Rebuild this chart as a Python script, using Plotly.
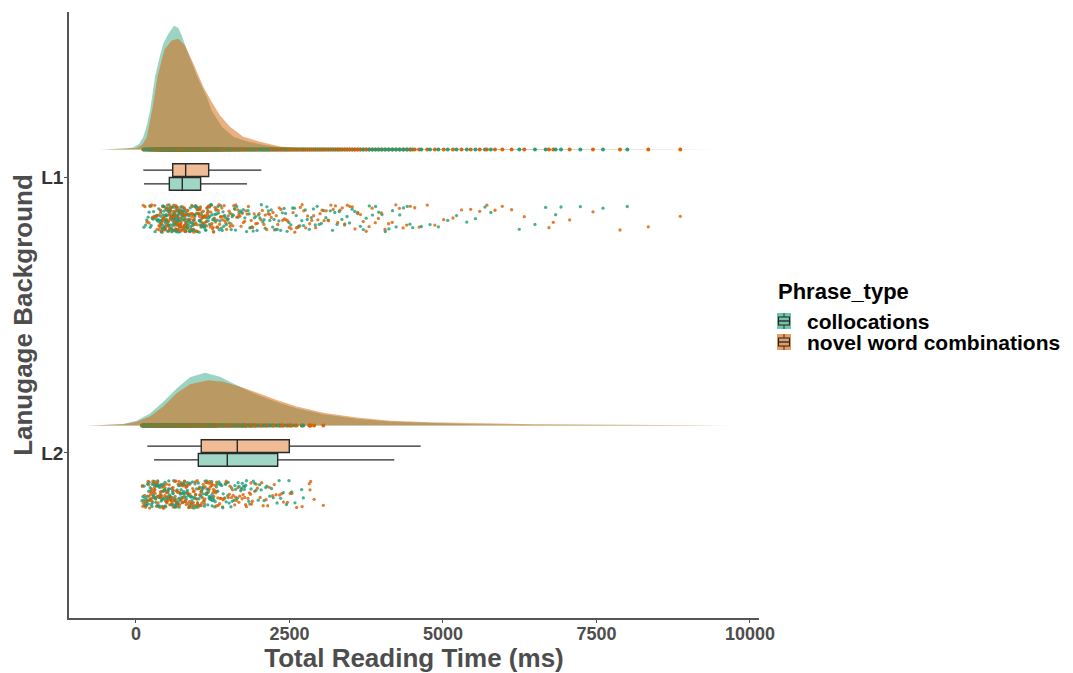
import numpy as np
import plotly.graph_objects as go

# ---------------- data ----------------
groups = ["L1", "L2"]
phrase_types = ["collocations", "novel word combinations"]

# box statistics (ms): lower whisker, Q1, median, Q3, upper whisker
box_L1_coll = [130, 543, 754, 1053, 1808]
box_L1_novel = [119, 598, 809, 1184, 2041]
box_L2_coll = [293, 1015, 1487, 2308, 4207]
box_L2_novel = [184, 1063, 1650, 2497, 4637]

# density curves (x in ms, scaled height)
dens_L1_coll_x = [-600, -300, -180, -50, 50, 120, 180, 230, 310, 380, 445, 530, 620, 690, 745, 850, 990, 1150, 1230, 1400, 1590, 1800, 2000, 2240, 2670, 3500, 5000, 7000, 8500, 9300]
dens_L1_coll_h = [0, 0.001, 0.003, 0.007, 0.02, 0.046, 0.09, 0.141, 0.263, 0.33, 0.384, 0.42, 0.448, 0.44, 0.413, 0.348, 0.268, 0.191, 0.142, 0.082, 0.046, 0.03, 0.02, 0.011, 0.004, 0.002, 0.001, 0.0005, 0.0002, 0]
dens_L1_novel_x = [-500, -200, 11, 100, 174, 270, 355, 465, 581, 689, 798, 933, 1096, 1232, 1368, 1531, 1748, 2020, 2345, 2671, 3500, 5000, 7000, 9000, 9600]
dens_L1_novel_h = [0, 0.002, 0.005, 0.017, 0.042, 0.15, 0.268, 0.362, 0.395, 0.401, 0.377, 0.312, 0.227, 0.173, 0.123, 0.082, 0.046, 0.028, 0.011, 0.004, 0.002, 0.0015, 0.0008, 0.0004, 0]
dens_L2_coll_x = [-800, -530, -207, 11, 228, 445, 663, 879, 1124, 1368, 1585, 1857, 1966, 2292, 2617, 3052, 3595, 4137, 4788, 5500, 6500, 8000, 9600]
dens_L2_coll_h = [0, 0.001, 0.005, 0.017, 0.043, 0.086, 0.134, 0.174, 0.191, 0.176, 0.152, 0.125, 0.112, 0.085, 0.062, 0.04, 0.024, 0.014, 0.008, 0.004, 0.002, 0.001, 0]
dens_L2_novel_x = [-800, -530, -207, 11, 228, 445, 663, 879, 1178, 1423, 1694, 1966, 2292, 2617, 3052, 3595, 4137, 4788, 5500, 6500, 8000, 9700]
dens_L2_novel_h = [0, 0.001, 0.004, 0.013, 0.032, 0.068, 0.116, 0.149, 0.164, 0.158, 0.14, 0.119, 0.092, 0.068, 0.046, 0.029, 0.017, 0.011, 0.007, 0.004, 0.002, 0]

# individual reading times (ms)
rt_L1_coll = [130, 158, 176, 197, 214, 233, 247, 266, 281, 298, 312, 327, 344, 358, 371, 389,
              402, 409, 413, 421, 426, 431, 438, 442, 449, 455, 458, 464, 471, 474, 480, 487, 490, 496, 503, 507, 512, 519, 523, 530, 536, 541,
              546, 551, 557, 560, 566, 571, 574, 581, 585, 590, 594, 601, 605, 609, 614, 619, 622, 628, 633, 636, 642, 647, 651, 656, 661, 664, 670, 675, 679, 684, 690, 693, 699, 704, 709, 713, 719, 724, 730, 737, 743, 750,
              757, 763, 768, 776, 781, 789, 795, 801, 808, 815, 821, 829, 834, 842, 849, 855, 862, 870, 877, 883, 891, 898, 904, 912, 919, 927, 933, 941, 948, 956, 963, 972, 980, 987, 996, 1004, 1012, 1021, 1029, 1036, 1044, 1052,
              1066, 1083, 1097, 1115, 1129, 1146, 1162, 1178, 1197, 1214, 1233, 1251, 1272, 1290, 1313, 1335, 1356, 1380, 1404, 1431, 1458, 1489, 1518, 1551, 1586, 1622, 1661, 1702, 1748, 1801,
              1843, 1889, 1927, 1971, 2018, 2066, 2104, 2157, 2203, 2249, 2301, 2356, 2412, 2460, 2523, 2581, 2638, 2701, 2757, 2823, 2889, 2951, 3019, 3092, 3164, 3238, 3311, 3397, 3478, 3563, 3655, 3749, 3852, 3954, 4061, 4178, 4296, 4418, 4507,
              4647, 4789, 4925, 5078, 5221, 5387, 5529, 5684, 5779, 6243, 6498, 6672, 6835, 6922, 7237, 7606, 8002,
              224, 286, 335, 366, 397, 417, 445, 468, 493, 517, 539, 555, 578, 598, 611, 625, 640, 653, 667, 681, 696, 711, 727, 747, 771, 798, 825, 852, 880, 908, 937, 966, 999, 1031,
              1059, 1074, 1091, 1106, 1121, 1138, 1154, 1170, 1187, 1205, 1223, 1242, 1261, 1281, 1301, 1324, 1346, 1368, 1392, 1417, 1444, 1473, 1503, 1534, 1568, 1604, 1641, 1681, 1725, 1773,
              1825, 1866, 1908, 1949, 1994, 2041, 2085, 2131, 2180, 2226, 2275, 2328, 2384, 2436, 2492, 2552, 2609, 2669, 2729, 2790, 2856, 2920, 2985, 3055, 3128, 3201, 3275, 3354, 3437, 3520,
              3609, 3702, 3800, 3903, 4007, 4119, 4237, 4357, 4462]
rt_L1_novel = [119, 147, 182, 213, 241, 268, 294, 317, 336, 352, 367, 379, 388, 397,
               405, 414, 420, 429, 436, 441, 448, 456, 462, 469, 474, 482, 488, 493, 501, 507, 512, 519, 526, 531, 538, 544, 550, 557, 563, 569, 575, 582, 588, 594,
               601, 606, 610, 615, 621, 625, 630, 636, 640, 645, 650, 655, 660, 664, 670, 675, 679, 684, 690, 694, 699, 704, 709, 714, 719, 724, 730, 735, 741, 745, 751, 756, 761, 767, 772, 778, 783, 788, 793, 797, 800, 803, 806, 808,
               815, 823, 830, 839, 845, 854, 861, 869, 878, 884, 893, 901, 909, 916, 925, 932, 941, 949, 957, 966, 974, 983, 991, 999, 1008, 1017, 1025, 1034, 1043, 1051, 1060, 1069, 1078, 1087, 1096, 1105, 1114, 1123, 1133, 1142, 1152, 1161, 1171, 1180,
               1199, 1218, 1236, 1257, 1275, 1297, 1318, 1339, 1362, 1386, 1409, 1435, 1462, 1488, 1517, 1548, 1577, 1609, 1641, 1676, 1711, 1749, 1789, 1831, 1877, 1925, 1978, 2034,
               2083, 2129, 2176, 2231, 2284, 2333, 2389, 2447, 2496, 2558, 2614, 2677, 2733, 2796, 2862, 2927, 2998, 3063, 3136, 3212, 3286, 3359, 3441, 3523, 3612, 3701, 3796, 3897, 3999, 4114, 4232, 4351, 4468,
               4612, 4744, 4868, 5012, 5163, 5302, 5451, 5598, 5715, 5847, 5966, 6118, 6324, 6726, 6797, 7063, 7443, 7883, 8344, 8865,
               256, 305, 343, 373, 402, 425, 452, 478, 497, 522, 547, 566, 585, 603, 618, 633, 648, 662, 677, 692, 707, 722, 738, 754, 775, 796, 819, 842, 866, 889, 913, 937, 962, 987, 1013, 1039, 1065, 1092, 1119, 1147, 1176,
               1190, 1208, 1227, 1246, 1266, 1286, 1307, 1329, 1351, 1374, 1398, 1422, 1448, 1475, 1503, 1532, 1562, 1593, 1625, 1658, 1693, 1730, 1769, 1810, 1854, 1901, 1951, 2006, 2058, 2106,
               2153, 2203, 2257, 2309, 2361, 2418, 2472, 2527, 2586, 2646, 2705, 2764, 2829, 2894, 2962, 3031, 3099, 3174, 3249, 3323, 3400, 3482, 3567, 3656, 3749, 3846, 3948, 4056, 4173, 4291,
               4409, 4540]
rt_L2_coll = [97, 112, 128, 141, 153, 167, 178, 189, 201, 213, 222, 231, 243, 252, 261, 270, 277,
              286, 293, 301, 309, 316, 324, 331, 338, 346, 353, 361, 369, 377, 384, 392, 399, 407, 415, 422, 430, 438, 445, 453, 461, 469, 476,
              484, 492, 499, 507, 515, 523, 531, 539, 547, 556, 564, 572, 580, 588, 596, 605, 613, 621, 629, 638, 646, 654, 663, 671, 679, 688, 696, 705, 713, 722, 730, 739, 747, 756, 764, 773, 781, 790, 798, 806, 813, 819,
              829, 839, 849, 859, 869, 879, 889, 900, 910, 920, 931, 941, 952, 962, 973, 984, 994, 1005, 1016, 1026, 1037, 1048, 1059, 1070, 1081, 1092, 1103, 1114, 1125, 1136, 1147, 1158, 1169, 1180, 1191, 1202, 1213, 1223, 1232, 1240, 1246, 1249,
              1268, 1291, 1309, 1332, 1351, 1377, 1398, 1421, 1447, 1468, 1494, 1517, 1546, 1569, 1597, 1623, 1651, 1678, 1706, 1731, 1754, 1772, 1787, 1799,
              1836, 1874, 1911, 1953, 1992, 2038, 2086, 2131, 2179, 2236, 2298, 2356, 2400, 2492, 2536, 2698, 2725,
              105, 134, 159, 184, 207, 237, 264, 290, 320, 350, 381, 411, 441, 472, 503, 535, 568, 600, 633, 666, 700, 734, 768, 802, 836, 871, 905, 946, 987, 1021,
              1063, 1108, 1151, 1196, 1238, 1281, 1327, 1372, 1414, 1458, 1503, 1557, 1612, 1664, 1718, 1765, 1853, 1933, 2013, 2112, 2207, 2331, 2451, 2589]
rt_L2_novel = [104, 121, 139, 156, 170, 184, 197, 209, 222, 236, 248, 259, 268, 276,
               287, 296, 303, 312, 321, 329, 337, 346, 355, 363, 372, 380, 389, 397, 406, 415, 423, 431, 440, 449, 457, 466, 474, 483, 491, 498,
               507, 515, 524, 533, 542, 550, 559, 568, 577, 585, 594, 603, 612, 620, 629, 638, 647, 656, 664, 673, 682, 691, 700, 709, 717, 726, 735, 744, 753, 762, 771, 779, 788, 797, 806, 815, 824, 832, 840, 847, 853, 858,
               869, 880, 891, 902, 913, 924, 935, 946, 958, 969, 980, 991, 1003, 1014, 1025, 1037, 1048, 1059, 1071, 1082, 1094, 1105, 1117, 1128, 1140, 1151, 1163, 1174, 1186, 1197, 1209, 1221, 1232, 1244, 1256, 1267, 1279, 1290, 1300, 1308, 1314, 1319,
               1339, 1362, 1386, 1408, 1433, 1456, 1481, 1505, 1531, 1556, 1582, 1608, 1635, 1661, 1689, 1716, 1744, 1772, 1799, 1824, 1847, 1866, 1882, 1896,
               1934, 1978, 2023, 2072, 2119, 2171, 2226, 2281, 2339, 2402, 2466, 2539, 2617, 2823, 2845, 2901, 3051,
               113, 147, 176, 203, 229, 255, 282, 309, 334, 361, 388, 418, 444, 470, 496, 529, 555, 581, 608, 634, 660, 687, 713, 739, 766, 792, 819, 848, 877, 906,
               936, 966, 997, 1028, 1060, 1092, 1124, 1156, 1191, 1226, 1262, 1297, 1333, 1374, 1418, 1470, 1520, 1571, 1622, 1676, 1728, 1785, 1873, 1956, 2047, 2145,
               2252, 2374, 2512, 2706, 2834]

x_ticks = [0, 2500, 5000, 7500, 10000]
x_tick_labels = ["0", "2500", "5000", "7500", "10000"]

# ---------------- styling / layout ----------------
GREEN = (27, 158, 119)
ORANGE = (217, 95, 2)


def rgba(c, a):
    return "rgba(%d,%d,%d,%.3f)" % (c[0], c[1], c[2], a)


center = {"L1": 2.0, "L2": 1.0}
DENS_NUDGE = 0.10
CLOUD_NUDGE = -0.15
CLOUD_HALF = 0.05
BOX_OFF = {"collocations": -0.025, "novel word combinations": 0.025}
BOX_W = 0.046
DENS_ALPHA = {"collocations": 0.44, "novel word combinations": 0.5}

FONT = "Liberation Sans, Arial, sans-serif"
W, H = 1065, 665          # page body adds an 8px margin
ML, MT, PW, PH = 61, 4, 690, 606

fig = go.Figure()

dens = {
    ("L1", "collocations"): (dens_L1_coll_x, dens_L1_coll_h),
    ("L1", "novel word combinations"): (dens_L1_novel_x, dens_L1_novel_h),
    ("L2", "collocations"): (dens_L2_coll_x, dens_L2_coll_h),
    ("L2", "novel word combinations"): (dens_L2_novel_x, dens_L2_novel_h),
}
rts = {
    ("L1", "collocations"): rt_L1_coll,
    ("L1", "novel word combinations"): rt_L1_novel,
    ("L2", "collocations"): rt_L2_coll,
    ("L2", "novel word combinations"): rt_L2_novel,
}
boxes = {
    ("L1", "collocations"): box_L1_coll,
    ("L1", "novel word combinations"): box_L1_novel,
    ("L2", "collocations"): box_L2_coll,
    ("L2", "novel word combinations"): box_L2_novel,
}
colors = {"collocations": GREEN, "novel word combinations": ORANGE}


def hash01(n, seed):
    i = np.arange(n, dtype=float)
    v = np.sin(i * 12.9898 + seed * 78.233) * 43758.5453
    return np.abs(v) % 1.0


# densities (half violins)
for g in groups:
    base = center[g] + DENS_NUDGE
    for p in phrase_types:
        xs, hs = dens[(g, p)]
        xs = list(xs)
        ys = [base + h for h in hs]
        fig.add_trace(go.Scatter(
            x=xs + xs[::-1], y=ys + [base] * len(xs), fill="toself",
            fillcolor=rgba(colors[p], DENS_ALPHA[p]), line=dict(width=0),
            mode="lines", hoverinfo="skip", showlegend=False))

# rug-like points on the density baseline (both phrase types interleaved by value)
for g in groups:
    base = center[g] + DENS_NUDGE
    vals, cols = [], []
    for p in phrase_types:
        vals += list(rts[(g, p)])
        cols += [rgba(colors[p], 0.95)] * len(rts[(g, p)])
    order = np.argsort(vals, kind="stable")
    fig.add_trace(go.Scatter(
        x=[vals[k] for k in order], y=[base] * len(vals), mode="markers",
        marker=dict(size=4, color=[cols[k] for k in order], line=dict(width=0)),
        hoverinfo="skip", showlegend=False))

# jittered rain (both phrase types interleaved)
for gi, g in enumerate(groups):
    vals, ys, cols = [], [], []
    for pi, p in enumerate(phrase_types):
        v = rts[(g, p)]
        j = hash01(len(v), 1 + gi * 2 + pi)
        vals += list(v)
        ys += list(center[g] + CLOUD_NUDGE + (j * 2 - 1) * CLOUD_HALF)
        cols += [rgba(colors[p], 0.8)] * len(v)
    order = np.argsort(hash01(len(vals), 11 + gi))
    fig.add_trace(go.Scatter(
        x=[vals[k] for k in order], y=[ys[k] for k in order], mode="markers",
        marker=dict(size=3.3, color=[cols[k] for k in order], line=dict(width=0)),
        hoverinfo="skip", showlegend=False))

# boxplots
for gi, g in enumerate(groups):
    for pi, p in enumerate(phrase_types):
        lo, q1, med, q3, hi = boxes[(g, p)]
        fig.add_trace(go.Box(
            y=[center[g] + BOX_OFF[p]], q1=[q1], median=[med], q3=[q3],
            lowerfence=[lo], upperfence=[hi], orientation="h",
            width=BOX_W, whiskerwidth=0, boxpoints=False,
            fillcolor=rgba(colors[p], 0.42),
            line=dict(color="#2a2a2a", width=1.4),
            name=p, showlegend=False, hoverinfo="skip"))

# legend (drawn as annotations + key glyphs, positioned in pixels)
def px_x(sx):
    return (sx - 8 - ML) / PW


def px_y(sy):
    return 1 - (sy - 8 - MT) / PH


annotations = [dict(text="Phrase_type", x=px_x(776), y=px_y(291), xref="paper", yref="paper",
                    xanchor="left", yanchor="middle", showarrow=False,
                    font=dict(family=FONT, size=22, color="black", weight="bold"))]
shapes = []
key_rows = [("collocations", 321), ("novel word combinations", 342)]
for p, sy in key_rows:
    annotations.append(dict(text=p, x=px_x(805), y=px_y(sy), xref="paper", yref="paper",
                            xanchor="left", yanchor="middle", showarrow=False,
                            font=dict(family=FONT, size=21, color="black", weight="bold")))
    x0, x1 = px_x(777), px_x(791)
    yt, yb = px_y(sy - 8), px_y(sy + 8)
    shapes.append(dict(type="rect", xref="paper", yref="paper", x0=x0, x1=x1, y0=yb, y1=yt,
                       fillcolor=rgba(colors[p], 0.62), line=dict(width=0)))
    bx0, bx1 = px_x(778.5), px_x(789.5)
    by0, by1 = px_y(sy - 4), px_y(sy + 4)
    shapes.append(dict(type="rect", xref="paper", yref="paper", x0=bx0, x1=bx1, y0=by1, y1=by0,
                       fillcolor="rgba(0,0,0,0)", line=dict(color="#222222", width=1.1)))
    shapes.append(dict(type="line", xref="paper", yref="paper", x0=bx0, x1=bx1,
                       y0=px_y(sy), y1=px_y(sy), line=dict(color="#222222", width=1.3)))
    cx = px_x(784)
    shapes.append(dict(type="line", xref="paper", yref="paper", x0=cx, x1=cx,
                       y0=yt, y1=by0, line=dict(color="#333333", width=1)))
    shapes.append(dict(type="line", xref="paper", yref="paper", x0=cx, x1=cx,
                       y0=by1, y1=yb, line=dict(color="#333333", width=1)))

fig.update_layout(
    width=W, height=H,
    margin=dict(l=ML, r=W - ML - PW, t=MT, b=H - MT - PH, autoexpand=False),
    paper_bgcolor="white", plot_bgcolor="white",
    font=dict(family=FONT),
    showlegend=False,
    annotations=annotations, shapes=shapes,
    xaxis=dict(
        range=[-1091, 10147], tickvals=x_ticks, ticktext=x_tick_labels,
        showgrid=False, zeroline=False, showline=True, linecolor="#555555", linewidth=1.5,
        ticks="outside", ticklen=3, tickcolor="#555555", tickwidth=1.2,
        ticklabelstandoff=-4,
        tickfont=dict(family=FONT, size=18, color="#4d4d4d", weight="bold"),
        title=dict(text="Total Reading Time (ms)", standoff=11,
                   font=dict(family=FONT, size=26, color="#4d4d4d", weight="bold")),
        automargin=False),
    yaxis=dict(
        range=[0.402, 2.598], tickvals=[2, 1], ticktext=["L1", "L2"],
        showgrid=False, zeroline=False, showline=True, linecolor="#555555", linewidth=1.5,
        ticks="outside", ticklen=3, tickcolor="#555555", tickwidth=1.2,
        ticklabelstandoff=-3,
        tickfont=dict(family=FONT, size=19, color="#333333", weight="bold"),
        title=dict(text="Lanugage Background", standoff=4,
                   font=dict(family=FONT, size=26, color="#4d4d4d", weight="bold")),
        automargin=False),
)

fig.write_html("out.html")
